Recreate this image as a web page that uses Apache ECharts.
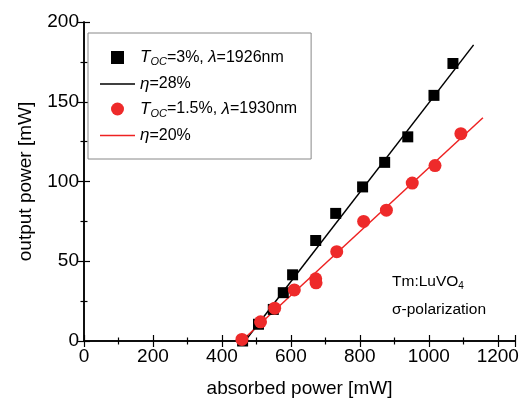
<!DOCTYPE html>
<html><head><meta charset="utf-8">
<script src="https://cdn.jsdelivr.net/npm/echarts@6/dist/echarts.min.js"></script>
<style>html,body{margin:0;padding:0;background:#fff}#c{width:522px;height:403px}</style>
</head><body><div id="c"></div>
<script>
// Data
const blackX = [460, 506, 549, 578, 605, 672, 730, 808, 872, 939, 1015, 1070];
const blackY = [0, 10.5, 19.8, 30.3, 41.5, 63, 80, 96.6, 112, 128, 154, 174];
const redX = [458, 512, 553, 610, 672, 673, 733, 811, 877, 952, 1018, 1093];
const redY = [1, 12, 20.6, 32, 39, 36.5, 56, 75, 82, 99, 110, 130];
// linear fits: slope efficiency, threshold, end of drawn line
const blackFit = {slope: 0.28, threshold: 467, end: 1130};
const redFit = {slope: 0.20, threshold: 457, end: 1157};
const xTicks = [0, 200, 400, 600, 800, 1000, 1200];
const yTicks = [0, 50, 100, 150, 200];

const pairs = (xs, ys) => xs.map((x, i) => [x, ys[i]]);
const fitLine = f => [[f.threshold, 0], [f.end, f.slope * (f.end - f.threshold)]];

const FONT = 'Liberation Sans, Arial, sans-serif';
const labels = {
  s1: '{i|T}{sub|OC}{n|=3%, }{i|λ}{n|=1926nm}',
  f1: '{i|η}{n|=28%}',
  s2: '{i|T}{sub|OC}{n|=1.5%, }{i|λ}{n|=1930nm}',
  f2: '{i|η}{n|=20%}'
};

const chart = echarts.init(document.getElementById('c'), null, {renderer: 'canvas'});
const axisCommon = {
  axisLine: {show: true, lineStyle: {color: '#000', width: 1.5}},
  axisTick: {show: true, inside: true, length: 6, lineStyle: {color: '#000', width: 1.2}},
  minorTick: {show: true, splitNumber: 2, length: 3.5, lineStyle: {color: '#000', width: 1.2}},
  splitLine: {show: false}
};
chart.setOption({
  animation: false,
  grid: {left: 84, right: 7, top: 22, bottom: 58},
  xAxis: [
    Object.assign({type: 'value', min: 0, max: 1250, interval: 200, position: 'bottom',
      name: 'absorbed power [mW]', nameLocation: 'middle', nameGap: 38,
      nameTextStyle: {fontFamily: FONT, fontSize: 19, color: '#000'},
      axisLabel: {fontFamily: FONT, fontSize: 19, color: '#000', margin: 6, showMaxLabel: false,
        formatter: v => xTicks.includes(v) ? String(v) : ''}}, axisCommon),
    Object.assign({type: 'value', min: 0, max: 1250, interval: 200, position: 'top',
      axisLabel: {show: false}}, axisCommon)
  ],
  yAxis: [
    Object.assign({type: 'value', min: 0, max: 200, interval: 50, position: 'left',
      name: 'output power [mW]', nameLocation: 'middle', nameGap: 49,
      nameTextStyle: {fontFamily: FONT, fontSize: 19, color: '#000'},
      axisLabel: {fontFamily: FONT, fontSize: 19, color: '#000', margin: 5,
        formatter: v => yTicks.includes(v) ? String(v) : ''}}, axisCommon),
    Object.assign({type: 'value', min: 0, max: 200, interval: 50, position: 'right',
      axisLabel: {show: false}}, axisCommon)
  ],
  legend: {
    orient: 'vertical', left: 88, top: 33, width: 224,
    padding: [16, 14, 15, 12], itemGap: 8,
    borderColor: '#888', borderWidth: 1, backgroundColor: '#fff',
    itemWidth: 35, itemHeight: 13,
    data: [
      {name: 's1', icon: 'path://M0,0H1V1H0Z'},
      {name: 'f1', icon: 'path://M0,0H36V1.3H0Z'},
      {name: 's2', icon: 'circle'},
      {name: 'f2', icon: 'path://M0,0H36V1.3H0Z'}
    ],
    formatter: n => labels[n],
    textStyle: {
      fontFamily: FONT, fontSize: 16, color: '#000',
      rich: {
        i: {fontFamily: FONT, fontSize: 17, fontStyle: 'italic', color: '#000'},
        n: {fontFamily: FONT, fontSize: 16, color: '#000'},
        sub: {fontFamily: FONT, fontSize: 11, fontStyle: 'italic', color: '#000', verticalAlign: 'bottom', padding: [9, 0, 0, 0]}
      }
    }
  },
  graphic: [
    {type: 'text', left: 392, top: 274, style: {
      rich: {a: {fontFamily: FONT, fontSize: 15.5, fill: '#000'}, s: {fontFamily: FONT, fontSize: 10, fill: '#000', padding: [8, 0, 0, 0]}},
      text: '{a|Tm:LuVO}{s|4}', fill: '#000'}},
    {type: 'text', left: 392, top: 302, style: {text: 'σ-polarization', fontFamily: FONT, fontSize: 15.5, fill: '#000'}}
  ],
  series: [
    {name: 'f1', type: 'line', data: fitLine(blackFit), showSymbol: false, symbol: 'none',
      lineStyle: {color: '#000', width: 1.5}, itemStyle: {color: '#000'}, z: 2},
    {name: 'f2', type: 'line', data: fitLine(redFit), showSymbol: false, symbol: 'none',
      lineStyle: {color: '#ee2222', width: 1.5}, itemStyle: {color: '#ee2222'}, z: 2},
    {name: 's1', type: 'scatter', data: pairs(blackX, blackY), symbol: 'rect', symbolSize: 11,
      itemStyle: {color: '#000', opacity: 1}, z: 3},
    {name: 's2', type: 'scatter', data: pairs(redX, redY), symbol: 'circle', symbolSize: 13,
      itemStyle: {color: '#ee2a2a', opacity: 1}, z: 4}
  ]
});
</script></body></html>
